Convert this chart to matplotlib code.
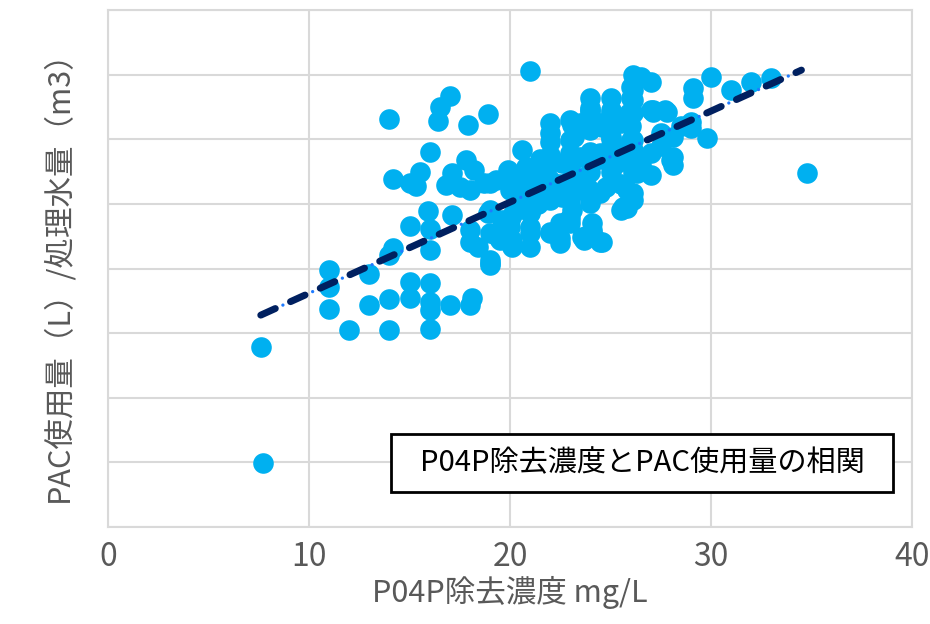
import numpy as np
import matplotlib
matplotlib.use("Agg")
import matplotlib.pyplot as plt
from matplotlib.patches import Rectangle

plt.rcParams["font.family"] = ["Noto Sans CJK JP", "DejaVu Sans"]
plt.rcParams["lines.scale_dashes"] = False

# P04P removal concentration (mg/L)
x_removal = [
    7.6, 7.7,
    11.0, 11.0, 11.0, 12.0, 13.0, 13.0, 14.0, 14.0, 14.0, 14.2,
    15.0, 15.0, 16.0, 16.0, 16.0, 16.0, 16.0, 17.0, 18.0, 18.1, 19.0,
    14.0, 16.4, 16.5, 17.0, 17.9, 18.9,
    16.0, 14.2, 15.5, 15.0, 15.3, 15.9, 15.0, 16.0,
    17.8, 18.2, 17.1, 16.8, 17.5, 18.0, 18.7, 19.3, 19.9, 20.6,
    19.9, 20.5, 21.0, 21.1, 22.0, 22.0, 22.0, 23.0, 23.2, 23.0,
    24.0, 24.0, 24.0, 25.0, 25.0, 24.6, 26.0,
    17.1, 19.0, 20.0, 20.1, 20.0, 21.0, 21.0, 21.0, 20.0, 19.4, 18.0, 19.0,
    22.0, 22.5, 22.9, 23.6, 24.1, 22.0, 23.0, 22.6, 23.6, 21.6, 25.3, 25.6,
    21.0, 26.1, 26.5, 27.0, 26.1, 26.1, 26.1, 24.0, 23.1, 27.1, 27.8,
    29.1, 29.1, 30.0, 31.0, 32.0, 33.0, 29.8, 29.0, 29.0, 28.1, 28.1, 28.1,
    27.0, 27.0, 26.1, 26.1, 26.1, 25.8, 24.5, 24.8, 23.9, 23.0, 23.0,
    22.5, 23.7, 24.1, 24.5, 21.0, 20.1, 20.1, 22.0, 22.0, 22.0,
    34.8, 26.1, 25.0, 25.0, 24.0, 24.0, 23.0, 25.5, 26.5, 27.5, 21.5,
    20.5, 21.5, 23.5, 24.5, 22.5, 25.0, 26.0, 28.5, 27.5, 26.1, 26.1,
    27.1, 24.6, 19.5, 18.4, 18.0, 19.6, 22.0, 21.0, 20.5, 23.0,
    26.0, 27.0, 27.7, 24.0, 25.0, 25.9, 23.5, 24.5, 25.5, 23.0, 25.0,
    26.0, 28.0, 20.8, 21.8, 22.6, 23.5, 24.5, 25.5, 26.3, 25.8, 23.8,
    22.8, 21.8, 21.0, 19.0, 18.9, 20.0, 19.0, 19.0, 23.0, 23.1, 24.0,
    25.5, 26.1, 22.5, 23.8, 24.1, 20.6, 21.4,
]

# PAC usage (L) per treated water volume (m3)
y_pac = [
    2.79, 0.99,
    3.98, 3.72, 3.37, 3.05, 3.44, 3.92, 3.53, 3.05, 4.21, 4.32,
    3.79, 3.54, 3.78, 3.48, 3.36, 3.07, 4.29, 3.44, 3.44, 3.54, 4.06,
    6.32, 6.28, 6.50, 6.67, 6.22, 6.39,
    5.80, 5.39, 5.50, 5.33, 5.28, 4.89, 4.66, 4.61,
    5.68, 5.53, 5.48, 5.29, 5.26, 5.22, 5.33, 5.37, 5.53, 5.84,
    5.37, 5.37, 5.53, 5.26, 6.25, 5.96, 5.76, 6.30, 6.04, 5.79,
    6.64, 6.42, 6.15, 6.64, 6.41, 6.19, 6.81,
    4.83, 4.91, 5.22, 4.83, 4.64, 4.88, 4.64, 4.33, 4.40, 4.49, 4.41, 4.09,
    4.55, 4.40, 4.75, 4.49, 4.55, 5.06, 5.37, 5.11, 5.22, 5.48, 5.63, 4.95,
    7.05, 7.00, 6.97, 6.89, 6.76, 6.61, 6.41, 6.49, 6.22, 6.42, 6.42,
    6.80, 6.64, 6.97, 6.76, 6.89, 6.95, 6.02, 6.27, 6.18, 6.04, 5.73, 5.60,
    5.79, 5.45, 5.99, 5.79, 5.17, 4.94, 5.17, 5.26, 5.25, 5.06, 4.78,
    4.47, 4.44, 4.60, 4.41, 4.86, 4.44, 4.33, 4.57, 6.10, 5.17,
    5.48, 5.50, 5.90, 5.50, 5.80, 5.50, 5.60, 5.30, 5.60, 5.90, 5.70,
    5.00, 5.10, 5.40, 5.70, 5.30, 6.00, 6.20, 6.20, 6.10, 5.84, 5.63,
    6.46, 4.41, 4.44, 4.33, 4.60, 4.75, 5.37, 4.55, 5.10, 5.60,
    6.64, 6.46, 6.46, 6.46, 6.46, 6.41, 6.25, 6.25, 6.25, 5.99, 6.04,
    5.99, 5.68, 5.57, 5.53, 5.63, 5.73, 5.79, 5.84, 5.48, 5.22, 5.22,
    5.26, 5.22, 5.11, 5.33, 4.86, 4.75, 4.55, 4.13, 4.71, 4.91, 5.02,
    4.91, 5.06, 4.70, 4.50, 4.70, 5.45, 5.00,
]

x_ticks = [0, 10, 20, 30, 40]
title_text = "P04P除去濃度とPAC使用量の相関"
x_label = "P04P除去濃度 mg/L"
y_label = "PAC使用量（L）/処理水量（m3）"

x = np.array(x_removal)
y = np.array(y_pac)

fig = plt.figure(figsize=(9.3, 6.24), dpi=100)
ax = fig.add_axes([108 / 930, 1 - 527 / 624, 804 / 930, 517 / 624])

ax.scatter(x, y, s=220, color="#00B0F0", linewidths=0, zorder=3)

# linear trend line over the data range
slope, intercept = np.polyfit(x, y, 1)
tx = np.array([x.min(), x.max() - 0.3])
ty = slope * tx + intercept
dots, = ax.plot(tx, ty, color="#1F7BFF", lw=2.4, zorder=4,
                dash_capstyle="round")
dots.set_linestyle((6.0, (0.01, 23.49)))
dash, = ax.plot(tx, ty, color="#002060", lw=5.0, zorder=5,
                dash_capstyle="round")
dash.set_linestyle((0, (11.5, 12.0)))

ax.set_xlim(0, 40)
ax.set_ylim(0, 8)
ax.set_xticks(x_ticks)
ax.set_yticks(range(0, 9))
ax.set_yticklabels([])
ax.tick_params(axis="both", length=0, colors="#595959", labelsize=23, pad=10)
ax.grid(True, color="#D9D9D9", lw=1.5)
ax.set_axisbelow(True)
for sp in ax.spines.values():
    sp.set_color("#D9D9D9")
    sp.set_linewidth(1.5)

ax.set_xlabel(x_label, fontsize=22, color="#595959", labelpad=2)
ax.set_ylabel(y_label, fontsize=22, color="#595959", labelpad=14)

# boxed chart title in the lower right corner
box_x0, box_x1 = (391 - 108) / 804, (893 - 108) / 804
box_y0, box_y1 = (527 - 492) / 517, (527 - 434) / 517
ax.add_patch(Rectangle((box_x0, box_y0), box_x1 - box_x0, box_y1 - box_y0,
                       transform=ax.transAxes, fc="white", ec="black",
                       lw=2, zorder=6))
ax.text((box_x0 + box_x1) / 2, (box_y0 + box_y1) / 2, title_text,
        transform=ax.transAxes, ha="center", va="center", fontsize=21,
        color="black", zorder=7)

fig.savefig("out.png", dpi=100)
